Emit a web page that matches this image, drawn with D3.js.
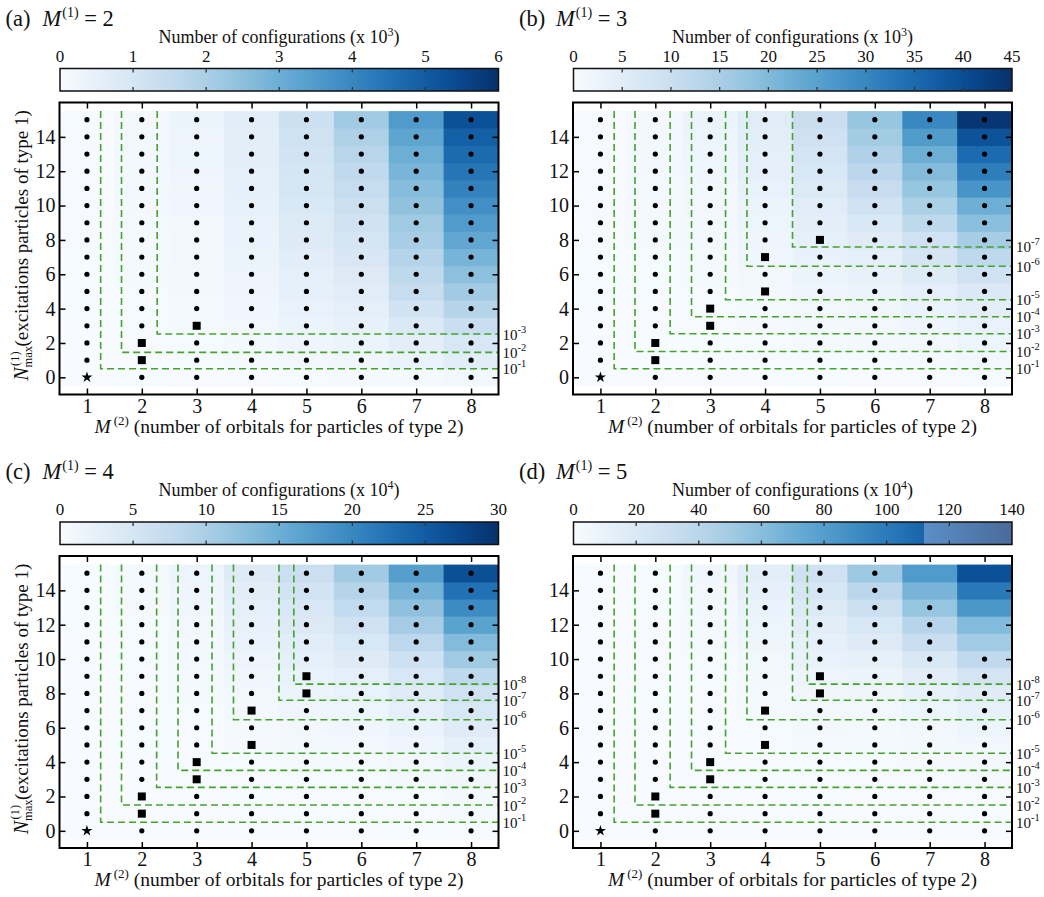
<!DOCTYPE html>
<html><head><meta charset="utf-8">
<script src="https://cdn.jsdelivr.net/npm/d3@7"></script>
<style>
body{margin:0;background:#fff}
svg{display:block}
text{font-family:"Liberation Serif","Times New Roman",serif;fill:#111}
</style>
</head><body>
<svg id="chart" width="1044" height="897"></svg>
<script>
// ---------- categories / ticks ----------
const M2 = [1,2,3,4,5,6,7,8];
const NMAX = [0,1,2,3,4,5,6,7,8,9,10,11,12,13,14,15];
const yTicks = [0,2,4,6,8,10,12,14];
const cbTicksA = [0,1,2,3,4,5,6];
const cbTicksB = [0,5,10,15,20,25,30,35,40,45];
const cbTicksC = [0,5,10,15,20,25,30];
const cbTicksD = [0,20,40,60,80,100,120,140];

// ---------- values: one array per M(2) column, rows N_max = 0..15 ----------
// (a) M(1)=2, units 10^3
const valsA = [
 [0.01,0.01,0.01,0.01,0.02,0.02,0.02,0.02,0.03,0.03,0.03,0.03,0.04,0.04,0.04,0.05],
 [0.02,0.03,0.04,0.05,0.06,0.07,0.08,0.09,0.10,0.11,0.12,0.13,0.13,0.14,0.15,0.16],
 [0.03,0.05,0.07,0.09,0.11,0.13,0.15,0.17,0.19,0.21,0.23,0.25,0.27,0.29,0.31,0.33],
 [0.04,0.10,0.15,0.19,0.23,0.27,0.31,0.35,0.39,0.43,0.47,0.51,0.55,0.59,0.63,0.67],
 [0.06,0.17,0.26,0.34,0.42,0.50,0.58,0.66,0.74,0.82,0.90,0.98,1.05,1.12,1.19,1.25],
 [0.10,0.25,0.36,0.47,0.58,0.69,0.80,0.92,1.04,1.17,1.30,1.44,1.58,1.74,1.92,2.15],
 [0.10,0.40,0.60,0.85,1.15,1.40,1.60,1.80,2.05,2.20,2.45,2.60,2.80,3.00,3.25,3.50],
 [0.20,0.65,0.95,1.35,1.80,2.15,2.50,2.85,3.20,3.50,3.80,4.10,4.40,4.65,4.90,5.25]
];
// (b) M(1)=3, units 10^3
const valsB = [
 [0.02,0.04,0.06,0.08,0.10,0.12,0.14,0.16,0.18,0.20,0.22,0.24,0.26,0.28,0.30,0.32],
 [0.05,0.10,0.16,0.22,0.29,0.36,0.43,0.50,0.57,0.64,0.72,0.80,0.88,0.96,1.05,1.15],
 [0.05,0.10,0.17,0.25,0.35,0.47,0.60,0.75,0.90,1.10,1.30,1.50,1.75,2.00,2.25,2.55],
 [0.10,0.22,0.37,0.55,0.77,1.00,1.30,1.65,2.00,2.40,2.80,3.20,3.70,4.20,4.70,5.30],
 [0.15,0.40,0.70,1.00,1.50,2.00,2.50,3.10,3.80,4.50,5.30,6.10,7.00,8.00,9.00,10.0],
 [0.20,0.50,0.90,1.30,1.90,2.60,3.40,4.30,5.50,6.80,8.50,10.5,12.5,14.3,16.0,17.5],
 [0.30,0.80,1.30,2.00,2.90,4.20,5.80,7.60,9.00,12.0,14.8,17.5,19.8,22.5,26.0,29.7],
 [0.50,1.40,2.20,3.20,4.50,6.30,9.00,12.0,15.5,19.0,22.5,27.5,31.5,35.0,39.0,44.0]
];
// (c) M(1)=4, units 10^4
const valsC = [
 [0.005,0.01,0.015,0.02,0.025,0.03,0.035,0.04,0.05,0.055,0.06,0.07,0.08,0.09,0.10,0.11],
 [0.01,0.02,0.03,0.05,0.07,0.09,0.11,0.14,0.17,0.20,0.24,0.28,0.32,0.37,0.42,0.48],
 [0.005,0.015,0.03,0.06,0.10,0.15,0.21,0.29,0.39,0.50,0.62,0.76,0.92,1.10,1.30,1.50],
 [0.01,0.04,0.08,0.15,0.24,0.36,0.52,0.72,0.95,1.25,1.55,1.90,2.30,2.70,3.20,3.70],
 [0.03,0.09,0.18,0.30,0.48,0.70,0.95,1.30,1.70,2.20,2.70,3.30,4.00,4.80,5.60,6.50],
 [0.04,0.10,0.20,0.35,0.55,0.80,1.15,1.60,2.20,2.90,3.70,4.70,6.00,7.50,9.00,10.8],
 [0.08,0.20,0.35,0.60,0.95,1.40,2.00,2.70,3.60,4.80,6.10,8.20,10.5,12.3,14.4,17.0],
 [0.20,0.45,0.80,1.20,1.70,2.50,3.60,4.80,6.00,8.00,11.0,13.3,16.5,19.5,22.5,26.5]
];
// (d) M(1)=5, units 10^4
const valsD = [
 [0.01,0.02,0.03,0.04,0.05,0.06,0.07,0.08,0.09,0.10,0.12,0.14,0.16,0.18,0.20,0.22],
 [0.01,0.03,0.06,0.10,0.15,0.21,0.28,0.36,0.46,0.57,0.70,0.84,1.00,1.17,1.35,1.55],
 [0.01,0.03,0.06,0.11,0.19,0.30,0.45,0.65,0.90,1.20,1.60,2.05,2.60,3.30,4.10,5.00],
 [0.03,0.09,0.20,0.36,0.60,0.95,1.40,1.95,2.70,3.60,4.70,6.00,7.60,9.40,11.5,14.0],
 [0.08,0.25,0.50,0.90,1.40,2.10,3.00,4.10,5.50,7.30,9.50,12.0,15.0,19.0,23.0,28.0],
 [0.05,0.15,0.35,0.65,1.10,1.80,2.70,4.00,6.00,8.50,12.5,17.5,22.0,31.0,39.0,52.0],
 [0.10,0.25,0.55,1.00,1.70,2.80,4.50,7.00,11.0,15.0,21.0,32.0,41.0,55.0,66.0,82.0],
 [0.20,0.50,1.00,1.70,2.80,4.50,7.50,11.0,17.0,25.0,37.0,50.0,62.0,84.0,101,123]
];

// ---------- markers ----------
const starPt = [1,0];
const squaresA = [[2,1],[2,2],[3,3]];
const squaresB = [[2,1],[2,2],[3,3],[3,4],[4,5],[4,7],[5,8]];
const squaresC = [[2,1],[2,2],[3,3],[3,4],[4,5],[4,7],[5,8],[5,9]];
const squaresD = [[2,1],[2,2],[3,3],[3,4],[4,5],[4,7],[5,8],[5,9]];
const missingD = [[7,14],[7,15],[8,11],[8,12],[8,13],[8,14],[8,15]];

// ---------- error contours: corner (M2, Nmax) and exponent ----------
const contA_x = [1.25,1.63,2.28];
const contA_y = [0.5,1.45,2.52];
const contA_e = [-1,-2,-3];
const contB_x = [1.25,1.63,2.27,2.66,3.28,3.67,4.50];
const contB_y = [0.5,1.5,2.54,3.53,4.52,6.47,7.59];
const contB_e = [-1,-2,-3,-4,-5,-6,-7];
const contC_x = [1.25,1.63,2.27,2.66,3.28,3.67,4.50,4.77];
const contC_y = [0.5,1.5,2.53,3.52,4.52,6.47,7.6,8.54];
const contC_e = [-1,-2,-3,-4,-5,-6,-7,-8];
const contD_x = [1.25,1.63,2.27,2.66,3.28,3.67,4.50,4.77];
const contD_y = [0.5,1.5,2.53,3.52,4.52,6.47,7.6,8.54];
const contD_e = [-1,-2,-3,-4,-5,-6,-7,-8];

const panels = [
 {tag:'(a)', m1:'2', left:59.5, top:102.5, vals:valsA, max:6,   cbTicks:cbTicksA, exp:'3', squares:squaresA, cx:contA_x, cy:contA_y, ce:contA_e, missing:[], yLabel:true},
 {tag:'(b)', m1:'3', left:573,  top:102.5, vals:valsB, max:45,  cbTicks:cbTicksB, exp:'3', squares:squaresB, cx:contB_x, cy:contB_y, ce:contB_e, missing:[], yLabel:false},
 {tag:'(c)', m1:'4', left:59.5, top:556,   vals:valsC, max:30,  cbTicks:cbTicksC, exp:'4', squares:squaresC, cx:contC_x, cy:contC_y, ce:contC_e, missing:[], yLabel:true},
 {tag:'(d)', m1:'5', left:573,  top:556,   vals:valsD, max:140, cbTicks:cbTicksD, exp:'4', squares:squaresD, cx:contD_x, cy:contD_y, ce:contD_e, missing:missingD, yLabel:false, tail:true}
];

const W = 439, H = 292;
const svg = d3.select('#chart');
const defs = svg.append('defs');
const GREEN = '#46a22c';

panels.forEach((p, pi) => {
  const g = svg.append('g');
  const x = d3.scaleLinear().domain([0.5, 8.5]).range([p.left, p.left + W]);
  const y = d3.scaleLinear().domain([-1, 16]).range([p.top + H, p.top]);
  const color = d3.scaleSequential(d3.interpolateBlues).domain([0, p.max]);

  // heatmap cells
  const cells = [];
  p.vals.forEach((col, i) => col.forEach((v, r) => cells.push({m: M2[i], n: NMAX[r], v})));
  g.append('g').selectAll('rect').data(cells).join('rect')
    .attr('x', d => x(d.m - 0.5))
    .attr('y', d => y(d.n + 0.5))
    .attr('width', d => x(d.m + 0.5) - x(d.m - 0.5) + 0.6)
    .attr('height', d => y(d.n - 0.5) - y(d.n + 0.5) + 0.6)
    .attr('fill', d => color(d.v));

  // contours
  const line = d3.line().x(d => x(d[0])).y(d => y(d[1]));
  p.cx.forEach((cxv, i) => {
    g.append('path')
      .attr('d', line([[cxv, 15.5], [cxv, p.cy[i]], [8.5, p.cy[i]]]))
      .attr('fill', 'none').attr('stroke', GREEN)
      .attr('stroke-width', 1.6).attr('stroke-dasharray', '7,4');
    const t = g.append('text')
      .attr('x', p.left + W + 4).attr('y', y(p.cy[i]) + 5.5)
      .attr('font-size', 15).text('10');
    t.append('tspan').attr('dy', -7).attr('font-size', 10.5).text(String(p.ce[i]));
  });

  // markers
  const key = (m, n) => m + ',' + n;
  const special = new Set([key(starPt[0], starPt[1])]
    .concat(p.squares.map(s => key(s[0], s[1])))
    .concat(p.missing.map(s => key(s[0], s[1]))));
  const dots = [];
  M2.forEach(m => NMAX.forEach(n => { if (!special.has(key(m, n))) dots.push([m, n]); }));
  g.append('g').selectAll('circle').data(dots).join('circle')
    .attr('cx', d => x(d[0])).attr('cy', d => y(d[1])).attr('r', 2.6).attr('fill', '#000');
  g.append('g').selectAll('path').data(p.squares).join('path')
    .attr('transform', d => `translate(${x(d[0])},${y(d[1])})`)
    .attr('d', d3.symbol(d3.symbolSquare, 64)).attr('fill', '#000');
  g.append('path')
    .attr('transform', `translate(${x(starPt[0])},${y(starPt[1])})`)
    .attr('d', d3.symbol(d3.symbolStar, 38)).attr('fill', '#000');

  // axes (inward ticks)
  const styleAxis = (sel, fs) => {
    sel.select('.domain').remove();
    sel.selectAll('.tick line').attr('stroke', '#000').attr('stroke-width', 1.5);
    sel.selectAll('.tick text').attr('font-size', fs).attr('fill', '#111')
      .attr('font-family', '"Liberation Serif","Times New Roman",serif');
  };
  g.append('g').attr('transform', `translate(0,${p.top + H})`)
    .call(d3.axisBottom(x).tickValues(M2).tickSizeInner(-6).tickSizeOuter(0).tickPadding(4).tickFormat(d3.format('d')))
    .call(s => styleAxis(s, 20));
  g.append('g').attr('transform', `translate(0,${p.top})`)
    .call(d3.axisTop(x).tickValues(M2).tickSizeInner(-6).tickSizeOuter(0).tickFormat(''))
    .call(s => styleAxis(s, 20));
  g.append('g').attr('transform', `translate(${p.left},0)`)
    .call(d3.axisLeft(y).tickValues(yTicks).tickSizeInner(-6).tickSizeOuter(0).tickPadding(4).tickFormat(d3.format('d')))
    .call(s => styleAxis(s, 20));
  g.append('g').attr('transform', `translate(${p.left + W},0)`)
    .call(d3.axisRight(y).tickValues(yTicks).tickSizeInner(-6).tickSizeOuter(0).tickFormat(''))
    .call(s => styleAxis(s, 20));

  // frame
  g.append('rect').attr('x', p.left).attr('y', p.top).attr('width', W).attr('height', H)
    .attr('fill', 'none').attr('stroke', '#000').attr('stroke-width', 2);

  // x label
  const xl = g.append('text').attr('x', p.left + W / 2).attr('y', p.top + H + 38)
    .attr('text-anchor', 'middle').attr('font-size', 19.5);
  xl.append('tspan').attr('font-style', 'italic').text('M');
  xl.append('tspan').attr('font-size', 13).attr('dx', 3).attr('dy', -8).text('(2)');
  xl.append('tspan').attr('dy', 8).text(' (number of orbitals for particles of type 2)');

  // y label
  if (p.yLabel) {
    const yl = g.append('text')
      .attr('transform', `translate(28,${p.top + H / 2 - 3}) rotate(-90)`)
      .attr('text-anchor', 'middle').attr('font-size', 19);
    yl.append('tspan').attr('font-style', 'italic').attr('font-size', 20).text('N');
    yl.append('tspan').attr('font-size', 12.5).attr('dy', 4).text('max');
    yl.append('tspan').attr('font-size', 12.5).attr('dx', -20).attr('dy', -13).text('(1)');
    yl.append('tspan').attr('dy', 9).text(' (excitations particles of type 1)');
  }

  // panel label
  g.append('text').attr('x', p.left - 54).attr('y', p.top - 77).attr('font-size', 22.5).text(p.tag);
  const pl = g.append('text').attr('x', p.left - 17).attr('y', p.top - 77).attr('font-size', 22.5);
  pl.append('tspan').attr('font-style', 'italic').text('M');
  pl.append('tspan').attr('font-size', 14).attr('dx', 1).attr('dy', -9).text('(1)');
  pl.append('tspan').attr('dy', 9).text(' = ' + p.m1);

  // colorbar
  const cbTop = p.top - 34, cbH = 22.5;
  const cbx = d3.scaleLinear().domain([0, p.max]).range([p.left + 0.5, p.left + W]);
  const gid = 'grad' + pi;
  const grad = defs.append('linearGradient').attr('id', gid).attr('x1', '0%').attr('x2', '100%').attr('y1', '0%').attr('y2', '0%');
  const tailStart = p.tail ? 0.8 : 1.0;
  const nStops = 40;
  for (let i = 0; i <= nStops; i++) {
    const t = tailStart * i / nStops;
    grad.append('stop').attr('offset', (t * 100) + '%').attr('stop-color', d3.interpolateBlues(t));
  }
  if (p.tail) {
    grad.append('stop').attr('offset', '80.01%').attr('stop-color', '#5a8fc6');
    grad.append('stop').attr('offset', '100%').attr('stop-color', '#4a6a9a');
  }
  g.append('rect').attr('x', cbx(0)).attr('y', cbTop).attr('width', cbx(p.max) - cbx(0)).attr('height', cbH)
    .attr('fill', `url(#${gid})`).attr('stroke', '#111').attr('stroke-width', 1.5);
  g.append('g').selectAll('line.t1').data(p.cbTicks.slice(1, -1)).join('line')
    .attr('x1', d => cbx(d)).attr('x2', d => cbx(d)).attr('y1', cbTop).attr('y2', cbTop + 4)
    .attr('stroke', '#333').attr('stroke-width', 1.3);
  g.append('g').selectAll('line.t2').data(p.cbTicks.slice(1, -1)).join('line')
    .attr('x1', d => cbx(d)).attr('x2', d => cbx(d)).attr('y1', cbTop + cbH - 4).attr('y2', cbTop + cbH)
    .attr('stroke', '#333').attr('stroke-width', 1.3);
  g.append('g').selectAll('text').data(p.cbTicks).join('text')
    .attr('x', d => cbx(d)).attr('y', p.top - 41).attr('text-anchor', 'middle').attr('font-size', 17)
    .text(d => d);
  const ct = g.append('text').attr('x', p.left + W / 2).attr('y', p.top - 60)
    .attr('text-anchor', 'middle').attr('font-size', 18);
  ct.append('tspan').text('Number of configurations (x 10');
  ct.append('tspan').attr('font-size', 12).attr('dy', -7).text(p.exp);
  ct.append('tspan').attr('dy', 7).text(')');
});
</script>
</body></html>
